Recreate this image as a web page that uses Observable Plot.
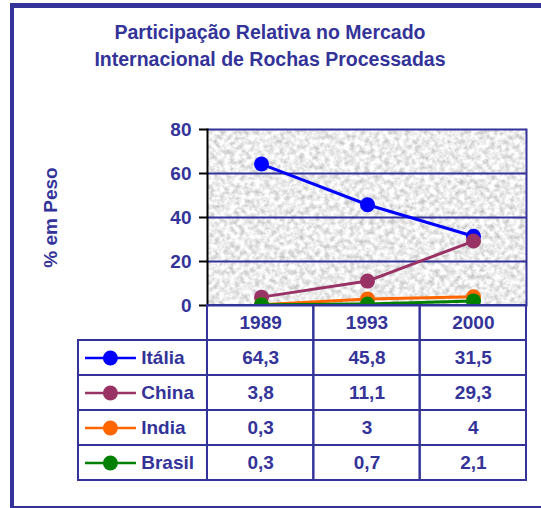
<!DOCTYPE html>
<html>
<head>
<meta charset="utf-8">
<script src="https://cdn.jsdelivr.net/npm/d3@7"></script>
<script src="https://cdn.jsdelivr.net/npm/@observablehq/plot@0.6"></script>
<style>
  html, body { margin: 0; padding: 0; background: white; }
  #wrap { position: relative; width: 541px; height: 508px; overflow: hidden; background: white;
          font-family: "Liberation Sans", Arial, sans-serif; color: #333399; }
  .bar { position: absolute; background: #333399; }
  #title { position: absolute; left: 0; top: 19px; width: 540px; text-align: center;
           font-weight: bold; font-size: 19.5px; line-height: 27px; }
  #wrap svg { position: absolute; left: 0; top: 0; }
</style>
</head>
<body>
<div id="wrap">
  <div class="bar" style="left:10px;top:3px;width:4px;height:505px"></div>
  <div class="bar" style="left:10px;top:3px;width:531px;height:5px"></div>
  <div class="bar" style="left:10px;top:506px;width:531px;height:2px"></div>
  <div id="title">Participação Relativa no Mercado<br>Internacional de Rochas Processadas</div>
</div>
<script>
// ---- data ----
const years = ["1989", "1993", "2000"];
const seriesNames = ["Itália", "China", "India", "Brasil"];
const italia = [64.3, 45.8, 31.5];
const china = [3.8, 11.1, 29.3];
const india = [0.3, 3, 4];
const brasil = [0.3, 0.7, 2.1];
const yTicks = [0, 20, 40, 60, 80];
const yLabel = "% em Peso";

// ---- styling ----
const BLUE = "#333399";
const colors = {"Itália": "#0000ff", "China": "#993366", "India": "#ff6600", "Brasil": "#008000"};
const values = {"Itália": italia, "China": china, "India": india, "Brasil": brasil};
const FONT = "'Liberation Sans', Arial, sans-serif";

const rows = seriesNames.flatMap(s => years.map((year, i) => ({series: s, year, i, value: values[s][i]})));

function granite(index, scales, vals, dims) {
  const {width, height, marginLeft, marginRight, marginTop, marginBottom} = dims;
  const g = d3.create("svg:g");
  const f = g.append("defs").append("filter").attr("id", "granite")
    .attr("x", 0).attr("y", 0).attr("width", "100%").attr("height", "100%")
    .attr("color-interpolation-filters", "sRGB");
  f.append("feTurbulence").attr("type", "fractalNoise").attr("baseFrequency", 0.2)
    .attr("numOctaves", 3).attr("seed", 7).attr("result", "n");
  f.append("feColorMatrix").attr("in", "n").attr("type", "matrix")
    .attr("values", "0.45 0 0 0 0.7  0.45 0 0 0 0.7  0.45 0 0 0 0.7  0 0 0 0 1");
  g.append("rect")
    .attr("x", marginLeft).attr("y", marginTop)
    .attr("width", width - marginLeft - marginRight)
    .attr("height", height - marginTop - marginBottom)
    .attr("fill", "#ebebeb").attr("filter", "url(#granite)");
  return g.node();
}

const seriesMarks = seriesNames.flatMap(s => {
  const d = rows.filter(r => r.series === s);
  return [
    Plot.line(d, {x: "year", y: "value", stroke: colors[s], strokeWidth: 3, clip: true}),
    Plot.dot(d, {x: "year", y: "value", fill: colors[s], r: 7.5, clip: true})
  ];
});

const chart = Plot.plot({
  width: 541, height: 508,
  marginTop: 129, marginBottom: 203, marginLeft: 207, marginRight: 15,
  x: {type: "point", domain: years, padding: 0.5, axis: null},
  y: {domain: [0, 80], axis: null, label: null},
  style: {background: "transparent", fontFamily: FONT, fontSize: "19px", fontWeight: "bold", color: BLUE, overflow: "visible"},
  marks: [
    granite,
    Plot.ruleY(yTicks, {stroke: BLUE, strokeWidth: 2}),
    Plot.frame({anchor: "right", stroke: BLUE, strokeWidth: 2}),
    ...seriesMarks,
    Plot.frame({anchor: "left", stroke: "black", strokeWidth: 2}),
    Plot.axisY(yTicks, {tickSize: 8, tickPadding: 8, stroke: "black", strokeWidth: 2, fill: BLUE, label: null, fontWeight: "bold"}),
    Plot.text([yLabel], {frameAnchor: "left", textAnchor: "middle", dx: -157, rotate: -90, fill: BLUE, fontWeight: "bold", fontSize: 19})
  ]
});

// ---- data table ----
const HEADER = "header";
const LW = 1.213; // width of legend column in year-column units
const fmt = v => String(v).replace(".", ",");
const headerCells = years.map((year, i) => ({row: HEADER, x1: i, x2: i + 1, label: year}));
const valueCells = rows.map(r => ({row: r.series, x1: r.i, x2: r.i + 1, label: fmt(r.value)}));
const legendCells = seriesNames.map(s => ({row: s, x1: -LW, x2: 0, label: s, color: colors[s]}));
const cells = [...headerCells, ...valueCells];

const table = Plot.plot({
  width: 541, height: 508,
  marginTop: 305, marginBottom: 28, marginLeft: 78, marginRight: 15,
  x: {type: "linear", domain: [-LW, 3], axis: null},
  y: {type: "band", domain: [HEADER, ...seriesNames], padding: 0, axis: null},
  style: {background: "transparent", fontFamily: FONT, fontSize: "19px", fontWeight: "bold", color: BLUE, overflow: "visible"},
  marks: [
    Plot.barX([...cells, ...legendCells], {x1: "x1", x2: "x2", y: "row", fill: "white", fillOpacity: 0, stroke: BLUE, strokeWidth: 2}),
    Plot.text(cells, {x: d => (d.x1 + d.x2) / 2, y: "row", text: "label", fill: BLUE, fontWeight: "bold", fontSize: 19}),
    Plot.ruleY(legendCells, {y: "row", x1: d => d.x1 + 0.066, x2: d => d.x1 + 0.545, stroke: "color", strokeWidth: 2.5}),
    Plot.dot(legendCells, {y: "row", x: d => d.x1 + 0.3, fill: "color", r: 7.5}),
    Plot.text(legendCells, {y: "row", x: d => d.x1 + 0.59, text: "label", textAnchor: "start", fill: BLUE, fontWeight: "bold", fontSize: 19})
  ]
});

const wrap = document.getElementById("wrap");
wrap.appendChild(chart);
wrap.appendChild(table);
</script>
</body>
</html>
